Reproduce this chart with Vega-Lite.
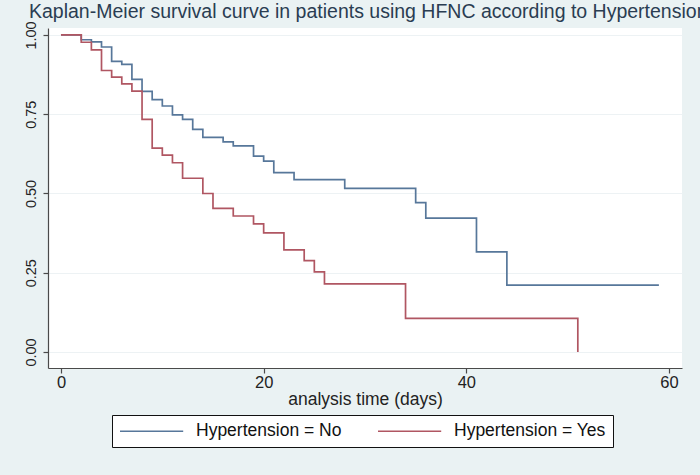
{
  "$schema": "https://vega.github.io/schema/vega-lite/v6.json",
  "autosize": {"type": "none"},
  "padding": {"left": 48, "top": 28, "right": 18, "bottom": 107},
  "width": 634,
  "height": 340,
  "background": "#eaf2f3",
  "title": {
    "text": "Kaplan-Meier survival curve in patients using HFNC according to Hypertension",
    "anchor": "start",
    "frame": "group",
    "dx": -19,
    "dy": 8,
    "offset": 6,
    "fontSize": 19.5,
    "fontWeight": "normal",
    "font": "Liberation Sans",
    "color": "#2a3d52"
  },
  "data": {
    "values": [
      {"group": "Hypertension = No", "time": 0, "surv": 1.0},
      {"group": "Hypertension = No", "time": 2, "surv": 0.985},
      {"group": "Hypertension = No", "time": 3, "surv": 0.978},
      {"group": "Hypertension = No", "time": 4, "surv": 0.962},
      {"group": "Hypertension = No", "time": 5, "surv": 0.917},
      {"group": "Hypertension = No", "time": 6, "surv": 0.907},
      {"group": "Hypertension = No", "time": 7, "surv": 0.86},
      {"group": "Hypertension = No", "time": 8, "surv": 0.822},
      {"group": "Hypertension = No", "time": 9, "surv": 0.796},
      {"group": "Hypertension = No", "time": 10, "surv": 0.776},
      {"group": "Hypertension = No", "time": 11, "surv": 0.748},
      {"group": "Hypertension = No", "time": 12, "surv": 0.734},
      {"group": "Hypertension = No", "time": 13, "surv": 0.702},
      {"group": "Hypertension = No", "time": 14, "surv": 0.677},
      {"group": "Hypertension = No", "time": 16, "surv": 0.663},
      {"group": "Hypertension = No", "time": 17, "surv": 0.65},
      {"group": "Hypertension = No", "time": 19, "surv": 0.618},
      {"group": "Hypertension = No", "time": 20, "surv": 0.602},
      {"group": "Hypertension = No", "time": 21, "surv": 0.566},
      {"group": "Hypertension = No", "time": 23, "surv": 0.544},
      {"group": "Hypertension = No", "time": 28, "surv": 0.516},
      {"group": "Hypertension = No", "time": 35, "surv": 0.471},
      {"group": "Hypertension = No", "time": 36, "surv": 0.422},
      {"group": "Hypertension = No", "time": 41, "surv": 0.316},
      {"group": "Hypertension = No", "time": 44, "surv": 0.211},
      {"group": "Hypertension = No", "time": 59, "surv": 0.211},
      {"group": "Hypertension = Yes", "time": 0, "surv": 1.0},
      {"group": "Hypertension = Yes", "time": 2, "surv": 0.977},
      {"group": "Hypertension = Yes", "time": 3, "surv": 0.953},
      {"group": "Hypertension = Yes", "time": 4, "surv": 0.888},
      {"group": "Hypertension = Yes", "time": 5, "surv": 0.867},
      {"group": "Hypertension = Yes", "time": 6, "surv": 0.846},
      {"group": "Hypertension = Yes", "time": 7, "surv": 0.823},
      {"group": "Hypertension = Yes", "time": 8, "surv": 0.734},
      {"group": "Hypertension = Yes", "time": 9, "surv": 0.643},
      {"group": "Hypertension = Yes", "time": 10, "surv": 0.621},
      {"group": "Hypertension = Yes", "time": 11, "surv": 0.597},
      {"group": "Hypertension = Yes", "time": 12, "surv": 0.548},
      {"group": "Hypertension = Yes", "time": 14, "surv": 0.5},
      {"group": "Hypertension = Yes", "time": 15, "surv": 0.453},
      {"group": "Hypertension = Yes", "time": 17, "surv": 0.429},
      {"group": "Hypertension = Yes", "time": 19, "surv": 0.404},
      {"group": "Hypertension = Yes", "time": 20, "surv": 0.376},
      {"group": "Hypertension = Yes", "time": 22, "surv": 0.322},
      {"group": "Hypertension = Yes", "time": 24, "surv": 0.288},
      {"group": "Hypertension = Yes", "time": 25, "surv": 0.253},
      {"group": "Hypertension = Yes", "time": 26, "surv": 0.215},
      {"group": "Hypertension = Yes", "time": 34, "surv": 0.106},
      {"group": "Hypertension = Yes", "time": 51, "surv": 0.0}
    ]
  },
  "mark": {"type": "line", "interpolate": "step-after", "strokeWidth": 1.7},
  "encoding": {
    "x": {
      "field": "time",
      "type": "quantitative",
      "scale": {"domain": [-1.28, 61.28], "nice": false, "zero": false},
      "axis": {
        "values": [0, 20, 40, 60],
        "title": "analysis time (days)",
        "grid": false,
        "labelFontSize": 16.5,
        "labelPadding": 1,
        "titleFontSize": 17.5,
        "titleFontWeight": "normal",
        "titlePadding": 0
      }
    },
    "y": {
      "field": "surv",
      "type": "quantitative",
      "scale": {"domain": [-0.0505, 1.022], "nice": false, "zero": false},
      "axis": {
        "values": [0, 0.25, 0.5, 0.75, 1],
        "format": ".2f",
        "title": null,
        "grid": true,
        "labelAngle": 270,
        "labelAlign": "center",
        "labelBaseline": "bottom",
        "labelFontSize": 14.5,
        "labelPadding": 5
      }
    },
    "color": {
      "field": "group",
      "type": "nominal",
      "scale": {
        "domain": ["Hypertension = No", "Hypertension = Yes"],
        "range": ["#57779a", "#b05662"]
      },
      "legend": {
        "title": null,
        "orient": "none",
        "direction": "horizontal",
        "legendX": 64,
        "legendY": 387,
        "padding": 7,
        "fillColor": "white",
        "strokeColor": "#111111",
        "symbolType": "M-1,0H6.9",
        "symbolSize": 256,
        "symbolStrokeWidth": 1.7,
        "labelOffset": 59,
        "labelFontSize": 17.5,
        "labelColor": "#111111",
        "columnPadding": 32
      }
    }
  },
  "config": {
    "font": "Liberation Sans",
    "view": {"fill": "white", "stroke": null},
    "axis": {
      "domainColor": "#4a4a4a",
      "domainWidth": 1.2,
      "tickColor": "#4a4a4a",
      "tickSize": 5,
      "tickWidth": 1.2,
      "labelColor": "#222222",
      "titleColor": "#222222",
      "gridColor": "#edf2f4",
      "gridWidth": 1
    }
  }
}
